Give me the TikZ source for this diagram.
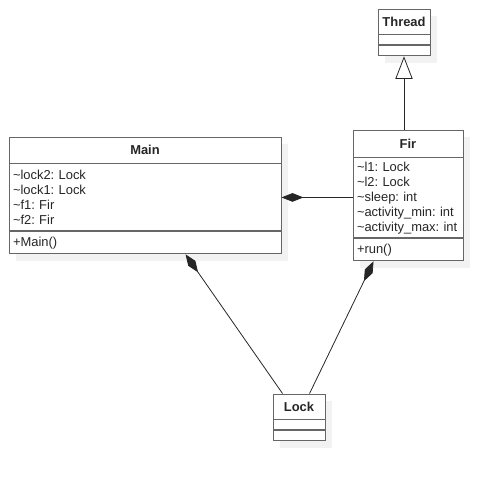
\documentclass[tikz,border=0pt]{standalone}
\usepackage{fontspec}
\setmainfont{Liberation Sans}
\usetikzlibrary{positioning,calc,arrows.meta,backgrounds}
\newcommand{\umlfont}{\fontsize{9.7}{11.25}\selectfont\frenchspacing}

\tikzset{
  classbox/.style={draw=black!60, fill=white, line width=0.7pt, inner sep=0pt,
    text=black!85, font=\umlfont},
  classname/.style={classbox, font=\umlfont\bfseries, minimum height=#1},
  classbody/.style={classbox, align=left, inner xsep=3pt, minimum height=#1},
  classempty/.style={classbox, minimum height=7.5pt},
  boxshadow/.style={fill=black!5},
  assoc/.style={draw=black!85, line width=0.6pt},
  composite/.style={assoc, {Diamond[length=16.5pt,width=6.5pt]}-},
  inherits/.style={assoc, -{Triangle[open,length=17pt,width=13pt,fill=white]}}
}

\begin{document}
\begin{tikzpicture}[x=0.75pt,y=-0.75pt]
\useasboundingbox (0,0) rectangle (503,478);

% Main
\node[classname=19.5pt, minimum width=204pt] (maintitle) at (145,150) {Main};
\node[classbody=50.25pt, text width=198pt, below=0pt of maintitle] (mainattr)
  {\textasciitilde lock2: Lock\\\textasciitilde lock1: Lock\\\textasciitilde f1: Fir\\\textasciitilde f2: Fir};
\node[classbody=16.5pt, text width=198pt, below=0pt of mainattr] (mainops) {+Main()};

% Fir
\node[classname=20.25pt, minimum width=82.5pt] (firtitle) at (408,143.5) {Fir};
\node[classbody=60pt, text width=76.5pt, below=0pt of firtitle] (firattr)
  {\textasciitilde l1: Lock\\\textasciitilde l2: Lock\\\textasciitilde sleep: int\\\textasciitilde activity\_min: int\\\mbox{\textasciitilde activity\_max: int}};
\node[classbody=16.5pt, text width=76.5pt, below=0pt of firattr] (firops) {+run()};

% Thread
\node[classname=18.75pt, minimum width=39pt] (threadtitle) at (404,21.5) {Thread};
\node[classempty, minimum width=39pt, below=0pt of threadtitle] (threadsp1) {};
\node[classempty, minimum width=39pt, below=0pt of threadsp1] (threadsp2) {};

% Lock
\node[classname=18.75pt, minimum width=39pt] (locktitle) at (299,406.5) {Lock};
\node[classempty, minimum width=39pt, below=0pt of locktitle] (locksp1) {};
\node[classempty, minimum width=39pt, below=0pt of locksp1] (locksp2) {};

% shadows
\begin{scope}[on background layer]
\foreach \upper/\lower in {maintitle/mainops, firtitle/firops, threadtitle/threadsp2, locktitle/locksp2}
  \fill[boxshadow] ($(\upper.north west)+(7,7)$) rectangle ($(\lower.south east)+(7,7)$);
\end{scope}

% connectors
\coordinate (mainlock) at ($(mainops.south west)+(177,0)$);
\coordinate (firlock) at ($(firops.south west)+(21,0)$);
\coordinate (lockleft) at ($(locktitle.north west)+(10,0)$);
\coordinate (lockright) at ($(locktitle.north west)+(37,0)$);
\draw[composite] (mainattr.east) -- (mainattr.east -| firattr.west);
\draw[composite] (mainlock) -- (lockleft);
\draw[composite] (firlock) -- (lockright);
\draw[inherits] (firtitle.north -| threadsp2.south) -- (threadsp2.south);
\end{tikzpicture}
\end{document}
